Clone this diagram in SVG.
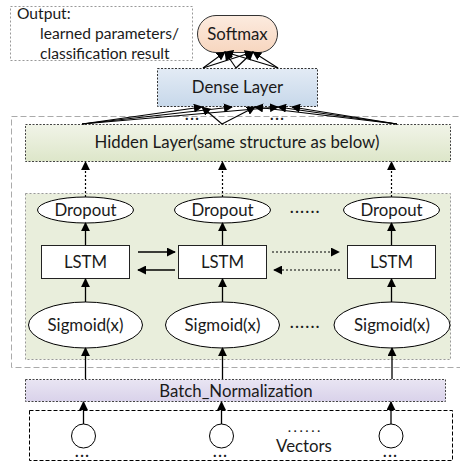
<svg xmlns="http://www.w3.org/2000/svg" width="460" height="462" viewBox="0 0 460 462">
  <defs>
    <marker id="arr" viewBox="0 0 10 10" refX="9" refY="5" markerWidth="9" markerHeight="9" markerUnits="userSpaceOnUse" orient="auto">
      <path d="M0,0 L10,5 L0,10 Z" fill="#000"/>
    </marker>
    <linearGradient id="gSoft" x1="0" y1="0" x2="0" y2="1">
      <stop offset="0" stop-color="#fcebdf"/>
      <stop offset="1" stop-color="#f7d6bf"/>
    </linearGradient>
    <linearGradient id="gDense" x1="0" y1="0" x2="0" y2="1">
      <stop offset="0" stop-color="#e3ebf5"/>
      <stop offset="1" stop-color="#c7d8ea"/>
    </linearGradient>
    <linearGradient id="gHidden" x1="0" y1="0" x2="0" y2="1">
      <stop offset="0" stop-color="#f1f4e8"/>
      <stop offset="1" stop-color="#dde6c9"/>
    </linearGradient>
    <linearGradient id="gBN" x1="0" y1="0" x2="0" y2="1">
      <stop offset="0" stop-color="#e9e5f3"/>
      <stop offset="1" stop-color="#d9d2ea"/>
    </linearGradient>
  </defs>
  <style>
    text { font-family: Lato, "Liberation Sans", sans-serif; fill: #1a1a1a; }
    .lbl { font-size: 16.8px; text-anchor: middle; }
    .note { font-size: 15.6px; }
    .ell { fill: #ffffff; stroke: #000; stroke-width: 1; }
    .box { fill: #ffffff; stroke: #222; stroke-width: 1; }
    .solid { stroke: #000; stroke-width: 1.3; fill: none; marker-end: url(#arr); }
    .dotted { stroke: #000; stroke-width: 1.2; fill: none; stroke-dasharray: 2 2; marker-end: url(#arr); }
    .fan { stroke: #000; stroke-width: 1.1; fill: none; marker-end: url(#arr); }
    .dots { font-size: 15px; font-weight: bold; letter-spacing: 1.6px; }
    .dots-sm { font-size: 12px; font-weight: bold; letter-spacing: 3px; }
  </style>

  <!-- output note -->
  <g id="output-note">
    <rect x="10.5" y="6.5" width="182" height="54" fill="#fff" stroke="#999" stroke-dasharray="2 2"/>
    <text class="note" x="17" y="19">Output:</text>
    <text class="note" x="40" y="39">learned parameters/</text>
    <text class="note" x="40" y="59">classification result</text>
  </g>

  <!-- outer container around hidden layers -->
  <rect x="11.5" y="116.5" width="460" height="251" fill="none" stroke="#aaa" stroke-dasharray="6 3"/>

  <!-- inner LSTM block background -->
  <rect id="lstm-block" x="25.5" y="193.5" width="425" height="166" fill="#e9eedc" stroke="#999" stroke-dasharray="2 2"/>

  <g id="softmax">
    <rect x="197.5" y="15.5" width="80" height="37" rx="18.5" ry="18.5" fill="url(#gSoft)" stroke="#333"/>
    <text class="lbl" x="237.5" y="40">Softmax</text>
  </g>

  <g id="dense">
    <rect x="157.5" y="68.5" width="160" height="38" fill="url(#gDense)" stroke="#333" stroke-dasharray="2 1.5"/>
    <text class="lbl" x="237.5" y="93">Dense Layer</text>
  </g>

  <g id="hidden">
    <rect x="25.5" y="124.5" width="425" height="37" fill="url(#gHidden)" stroke="#444" stroke-dasharray="2 1.5"/>
    <text class="lbl" x="237" y="148">Hidden Layer(same structure as below)</text>
  </g>

  <g id="dropout1"><ellipse class="ell" cx="85.5" cy="210" rx="48" ry="13"/><text class="lbl" x="85.5" y="216">Dropout</text></g>
  <g id="dropout2"><ellipse class="ell" cx="222.5" cy="210" rx="48" ry="13"/><text class="lbl" x="222.5" y="216">Dropout</text></g>
  <g id="dropout3"><ellipse class="ell" cx="391.5" cy="210" rx="48" ry="13"/><text class="lbl" x="391.5" y="216">Dropout</text></g>

  <g id="lstm1"><rect class="box" x="41.5" y="245.5" width="88" height="33"/><text class="lbl" x="85.5" y="268">LSTM</text></g>
  <g id="lstm2"><rect class="box" x="178.5" y="245.5" width="88" height="33"/><text class="lbl" x="222.5" y="268">LSTM</text></g>
  <g id="lstm3"><rect class="box" x="347.5" y="245.5" width="88" height="33"/><text class="lbl" x="391.5" y="268">LSTM</text></g>

  <g id="sigmoid1"><ellipse class="ell" cx="85.5" cy="325" rx="57" ry="23"/><text class="lbl" x="85.5" y="331">Sigmoid(x)</text></g>
  <g id="sigmoid2"><ellipse class="ell" cx="222.5" cy="325" rx="57" ry="23"/><text class="lbl" x="222.5" y="331">Sigmoid(x)</text></g>
  <g id="sigmoid3"><ellipse class="ell" cx="392" cy="325" rx="58" ry="23"/><text class="lbl" x="392" y="331">Sigmoid(x)</text></g>

  <g id="batch-norm">
    <rect x="25.5" y="379.5" width="420" height="22" fill="url(#gBN)" stroke="#444" stroke-dasharray="2 1.5"/>
    <text class="lbl" x="236" y="397">Batch_Normalization</text>
  </g>

  <g id="vectors">
    <rect x="29.5" y="410.5" width="423" height="50" fill="#fff" stroke="#000" stroke-dasharray="4 2"/>
    <circle cx="83.5" cy="436" r="12" fill="#fff" stroke="#000"/>
    <circle cx="221.5" cy="436" r="12" fill="#fff" stroke="#000"/>
    <circle cx="391" cy="436" r="12" fill="#fff" stroke="#000"/>
    <text class="dots" x="75" y="457">...</text>
    <text class="dots" x="213" y="457">...</text>
    <text class="dots" x="383" y="457">...</text>
    <text class="dots-sm" x="288" y="432">......</text>
    <text class="lbl" x="304" y="452">Vectors</text>
  </g>

  <!-- ellipsis markers between columns -->
  <text class="dots" x="290" y="213">......</text>
  <text class="dots" x="290" y="328">......</text>
  <text class="dots" x="185" y="120">...</text>
  <text class="dots" x="270" y="120">...</text>

  <g id="connectors">
    <!-- vectors to batch norm -->
    <line class="solid" x1="83.5" y1="424" x2="83.5" y2="402"/>
    <line class="solid" x1="221.5" y1="424" x2="221.5" y2="402"/>
    <line class="solid" x1="391" y1="424" x2="391" y2="402"/>
    <!-- batch norm to sigmoid -->
    <line class="solid" x1="85.5" y1="379" x2="85.5" y2="348"/>
    <line class="solid" x1="222.5" y1="379" x2="222.5" y2="348"/>
    <line class="solid" x1="392" y1="379" x2="392" y2="348"/>
    <!-- sigmoid to lstm -->
    <line class="solid" x1="85.5" y1="302" x2="85.5" y2="279"/>
    <line class="solid" x1="222.5" y1="302" x2="222.5" y2="279"/>
    <line class="solid" x1="391.5" y1="302" x2="391.5" y2="279"/>
    <!-- lstm to dropout -->
    <line class="solid" x1="85.5" y1="245" x2="85.5" y2="223"/>
    <line class="solid" x1="222.5" y1="245" x2="222.5" y2="223"/>
    <line class="solid" x1="391.5" y1="245" x2="391.5" y2="223"/>
    <!-- recurrent links -->
    <line class="solid" x1="138" y1="252" x2="175" y2="252"/>
    <line class="solid" x1="175" y1="270" x2="138" y2="270"/>
    <line class="dotted" x1="272" y1="252" x2="339" y2="252"/>
    <line class="dotted" x1="340" y1="270" x2="274" y2="270"/>
    <!-- dropout to hidden layer -->
    <line class="dotted" x1="85.5" y1="197" x2="85.5" y2="162"/>
    <line class="dotted" x1="222.5" y1="197" x2="222.5" y2="162"/>
    <line class="dotted" x1="391.5" y1="197" x2="391.5" y2="162"/>
    <!-- hidden layer to dense layer -->
    <line class="fan" x1="82" y1="124" x2="202" y2="107"/>
    <line class="fan" x1="82" y1="124" x2="232" y2="107"/>
    <line class="fan" x1="82" y1="124" x2="278" y2="107"/>
    <line class="fan" x1="222" y1="124" x2="202" y2="107"/>
    <line class="fan" x1="222" y1="124" x2="255" y2="107"/>
    <line class="fan" x1="397" y1="124" x2="255" y2="107"/>
    <line class="fan" x1="397" y1="124" x2="278" y2="107"/>
    <line class="fan" x1="397" y1="124" x2="292" y2="107"/>
    <!-- dense layer to softmax -->
    <line class="fan" x1="203" y1="68" x2="225" y2="52"/>
    <line class="fan" x1="203" y1="68" x2="253" y2="52"/>
    <line class="fan" x1="236" y1="68" x2="225" y2="52"/>
    <line class="fan" x1="236" y1="68" x2="253" y2="52"/>
    <line class="fan" x1="278" y1="68" x2="225" y2="52"/>
    <line class="fan" x1="278" y1="68" x2="253" y2="52"/>
  </g>
</svg>
